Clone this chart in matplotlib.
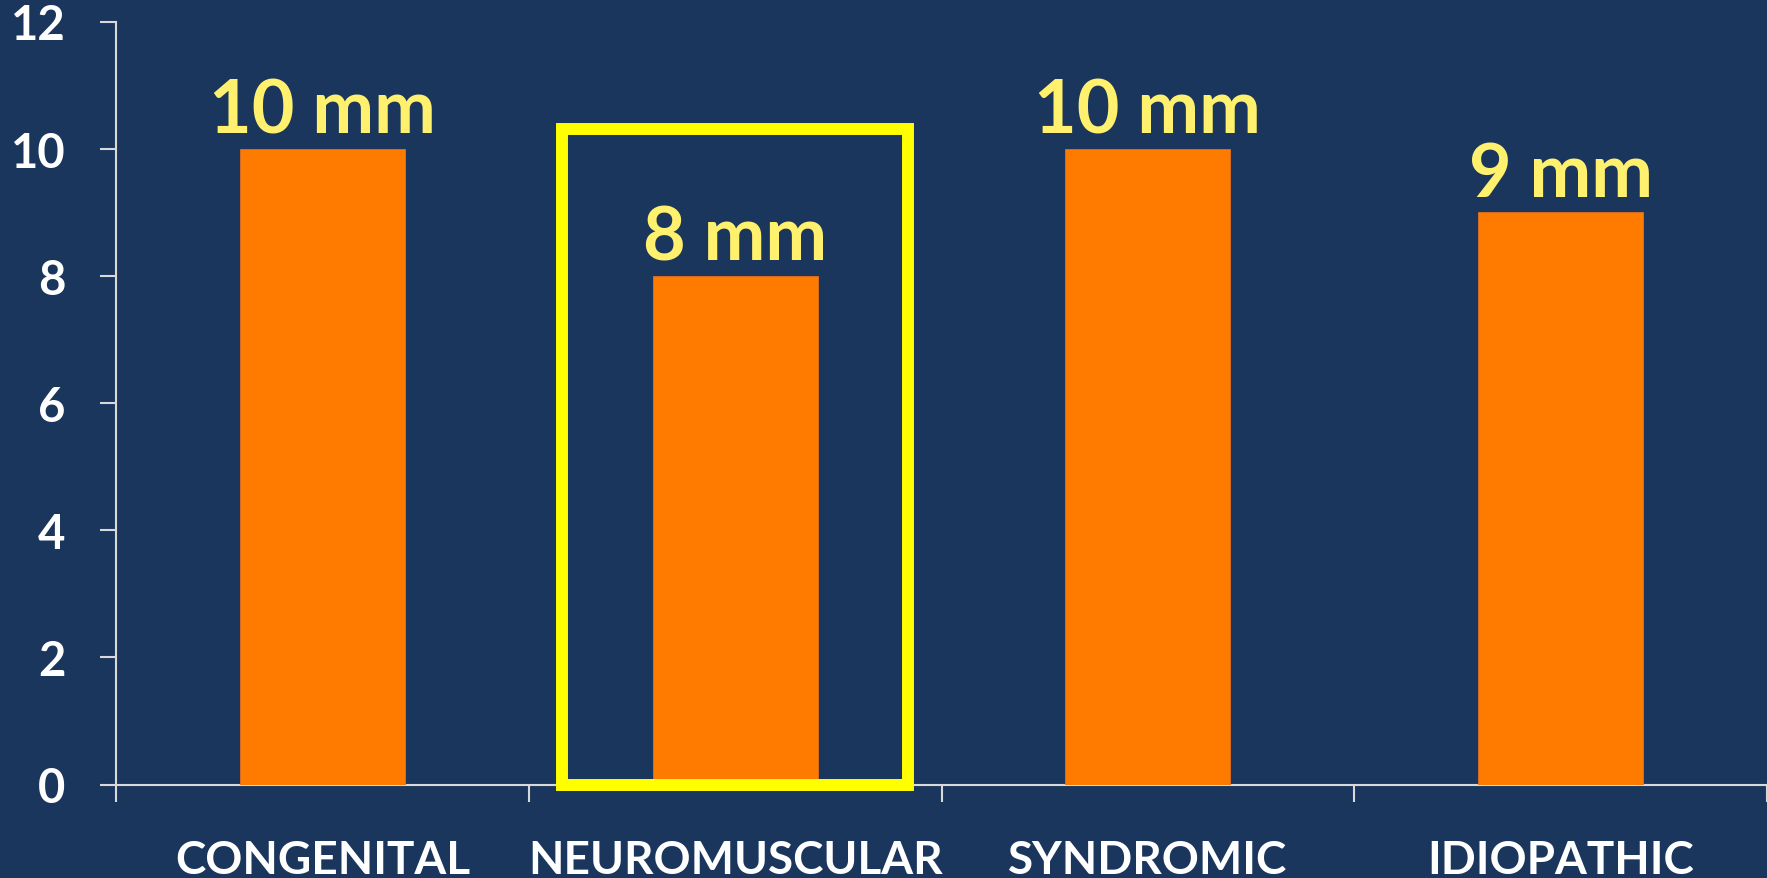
import matplotlib
matplotlib.use("Agg")
import matplotlib.pyplot as plt
from matplotlib.patches import Rectangle

categories = ["CONGENITAL", "NEUROMUSCULAR", "SYNDROMIC", "IDIOPATHIC"]
values = [10, 8, 10, 9]
value_labels = ["10 mm", "8 mm", "10 mm", "9 mm"]
y_ticks = [0, 2, 4, 6, 8, 10, 12]
highlight_index = 1

BG = "#1A365D"
ORANGE = "#FF7B00"
LABEL_YELLOW = "#FFF06E"
BOX_YELLOW = "#FFFF00"
AXIS_GREY = "#D9D9D9"

plt.rcParams['font.family'] = ['Lato', 'DejaVu Sans']
plt.rcParams['font.weight'] = 'bold'

fig = plt.figure(figsize=(17.67, 8.79), dpi=100)
fig.patch.set_facecolor(BG)
ax = fig.add_axes([116/1767, 93.5/879, 1 - 116/1767, 763/879])
ax.set_facecolor(BG)

x = list(range(len(categories)))
ax.bar(x, values, width=0.4, color=ORANGE, edgecolor="#E07020", linewidth=0.6, zorder=3)

for xi, v, lab in zip(x, values, value_labels):
    ax.annotate(lab, (xi, v), xytext=(0, 16), textcoords="offset pixels",
                ha="center", va="baseline", color=LABEL_YELLOW,
                fontsize=53, fontweight="bold", zorder=5)

ax.set_xlim(-0.5, len(categories) - 0.5)
ax.set_ylim(0, 12)
ax.set_yticks(y_ticks)
ax.set_yticklabels([str(t) for t in y_ticks])

ax.set_xticks(x)
ax.set_xticklabels(categories)
ax.set_xticks([i - 0.5 for i in range(len(categories) + 1)], minor=True)

ax.tick_params(axis="x", which="major", length=0, pad=39, labelsize=33,
               labelcolor="white")
ax.tick_params(axis="x", which="minor", length=12, width=1.5, color=AXIS_GREY,
               direction="out")
ax.tick_params(axis="y", which="major", length=11.5, width=1.5, color=AXIS_GREY,
               pad=25, labelsize=34, labelcolor="white")
for lbl in ax.get_xticklabels() + ax.get_yticklabels():
    lbl.set_fontweight("bold")

for s in ["top", "right"]:
    ax.spines[s].set_visible(False)
for s in ["left", "bottom"]:
    ax.spines[s].set_color(AXIS_GREY)
    ax.spines[s].set_linewidth(1.5)

# highlight box around the neuromuscular category
rect = Rectangle((highlight_index - 0.42, 0), 0.84, 10.31, fill=False,
                 edgecolor=BOX_YELLOW, linewidth=8.6, clip_on=False, zorder=6)
ax.add_patch(rect)

fig.savefig("out.png", dpi=100, facecolor=BG)
